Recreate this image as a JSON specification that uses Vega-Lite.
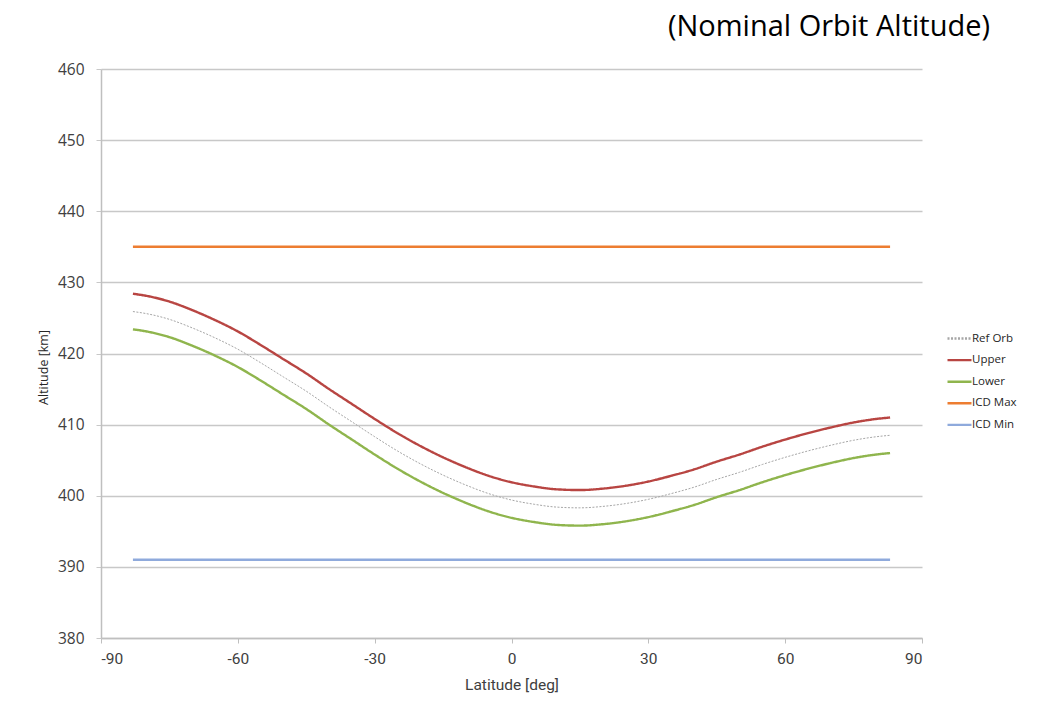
{
  "$schema": "https://vega.github.io/schema/vega-lite/v6.json",
  "width": 821,
  "height": 569,
  "autosize": "none",
  "padding": {"left": 101, "top": 69, "right": 116, "bottom": 68},
  "background": "white",
  "title": {
    "text": "(Nominal Orbit Altitude)",
    "anchor": "end",
    "frame": "group",
    "dx": 68,
    "offset": -3,
    "fontSize": 29,
    "font": "Open Sans",
    "fontWeight": "normal",
    "color": "#000000",
    "baseline": "alphabetic"
  },
  "data": {
    "values": [
      {"series": "Ref Orb", "lat": -83, "alt": 425.9},
      {"series": "Ref Orb", "lat": -80, "alt": 425.6},
      {"series": "Ref Orb", "lat": -75, "alt": 424.8},
      {"series": "Ref Orb", "lat": -70, "alt": 423.6},
      {"series": "Ref Orb", "lat": -65, "alt": 422.2},
      {"series": "Ref Orb", "lat": -60, "alt": 420.6},
      {"series": "Ref Orb", "lat": -55, "alt": 418.7},
      {"series": "Ref Orb", "lat": -50, "alt": 416.7},
      {"series": "Ref Orb", "lat": -45, "alt": 414.7},
      {"series": "Ref Orb", "lat": -40, "alt": 412.5},
      {"series": "Ref Orb", "lat": -35, "alt": 410.4},
      {"series": "Ref Orb", "lat": -30, "alt": 408.3},
      {"series": "Ref Orb", "lat": -25, "alt": 406.3},
      {"series": "Ref Orb", "lat": -20, "alt": 404.5},
      {"series": "Ref Orb", "lat": -15, "alt": 402.9},
      {"series": "Ref Orb", "lat": -10, "alt": 401.5},
      {"series": "Ref Orb", "lat": -5, "alt": 400.3},
      {"series": "Ref Orb", "lat": 0, "alt": 399.4},
      {"series": "Ref Orb", "lat": 5, "alt": 398.8},
      {"series": "Ref Orb", "lat": 10, "alt": 398.4},
      {"series": "Ref Orb", "lat": 15, "alt": 398.3},
      {"series": "Ref Orb", "lat": 20, "alt": 398.5},
      {"series": "Ref Orb", "lat": 25, "alt": 398.9},
      {"series": "Ref Orb", "lat": 30, "alt": 399.5},
      {"series": "Ref Orb", "lat": 35, "alt": 400.3},
      {"series": "Ref Orb", "lat": 40, "alt": 401.2},
      {"series": "Ref Orb", "lat": 45, "alt": 402.3},
      {"series": "Ref Orb", "lat": 50, "alt": 403.3},
      {"series": "Ref Orb", "lat": 55, "alt": 404.4},
      {"series": "Ref Orb", "lat": 60, "alt": 405.4},
      {"series": "Ref Orb", "lat": 65, "alt": 406.3},
      {"series": "Ref Orb", "lat": 70, "alt": 407.1},
      {"series": "Ref Orb", "lat": 75, "alt": 407.8},
      {"series": "Ref Orb", "lat": 80, "alt": 408.3},
      {"series": "Ref Orb", "lat": 83, "alt": 408.5},
      {"series": "Upper", "lat": -83, "alt": 428.4},
      {"series": "Upper", "lat": -80, "alt": 428.1},
      {"series": "Upper", "lat": -75, "alt": 427.3},
      {"series": "Upper", "lat": -70, "alt": 426.1},
      {"series": "Upper", "lat": -65, "alt": 424.7},
      {"series": "Upper", "lat": -60, "alt": 423.1},
      {"series": "Upper", "lat": -55, "alt": 421.2},
      {"series": "Upper", "lat": -50, "alt": 419.2},
      {"series": "Upper", "lat": -45, "alt": 417.2},
      {"series": "Upper", "lat": -40, "alt": 415.0},
      {"series": "Upper", "lat": -35, "alt": 412.9},
      {"series": "Upper", "lat": -30, "alt": 410.8},
      {"series": "Upper", "lat": -25, "alt": 408.8},
      {"series": "Upper", "lat": -20, "alt": 407.0},
      {"series": "Upper", "lat": -15, "alt": 405.4},
      {"series": "Upper", "lat": -10, "alt": 404.0},
      {"series": "Upper", "lat": -5, "alt": 402.8},
      {"series": "Upper", "lat": 0, "alt": 401.9},
      {"series": "Upper", "lat": 5, "alt": 401.3},
      {"series": "Upper", "lat": 10, "alt": 400.9},
      {"series": "Upper", "lat": 15, "alt": 400.8},
      {"series": "Upper", "lat": 20, "alt": 401.0},
      {"series": "Upper", "lat": 25, "alt": 401.4},
      {"series": "Upper", "lat": 30, "alt": 402.0},
      {"series": "Upper", "lat": 35, "alt": 402.8},
      {"series": "Upper", "lat": 40, "alt": 403.7},
      {"series": "Upper", "lat": 45, "alt": 404.8},
      {"series": "Upper", "lat": 50, "alt": 405.8},
      {"series": "Upper", "lat": 55, "alt": 406.9},
      {"series": "Upper", "lat": 60, "alt": 407.9},
      {"series": "Upper", "lat": 65, "alt": 408.8},
      {"series": "Upper", "lat": 70, "alt": 409.6},
      {"series": "Upper", "lat": 75, "alt": 410.3},
      {"series": "Upper", "lat": 80, "alt": 410.8},
      {"series": "Upper", "lat": 83, "alt": 411.0},
      {"series": "Lower", "lat": -83, "alt": 423.4},
      {"series": "Lower", "lat": -80, "alt": 423.1},
      {"series": "Lower", "lat": -75, "alt": 422.3},
      {"series": "Lower", "lat": -70, "alt": 421.1},
      {"series": "Lower", "lat": -65, "alt": 419.7},
      {"series": "Lower", "lat": -60, "alt": 418.1},
      {"series": "Lower", "lat": -55, "alt": 416.2},
      {"series": "Lower", "lat": -50, "alt": 414.2},
      {"series": "Lower", "lat": -45, "alt": 412.2},
      {"series": "Lower", "lat": -40, "alt": 410.0},
      {"series": "Lower", "lat": -35, "alt": 407.9},
      {"series": "Lower", "lat": -30, "alt": 405.8},
      {"series": "Lower", "lat": -25, "alt": 403.8},
      {"series": "Lower", "lat": -20, "alt": 402.0},
      {"series": "Lower", "lat": -15, "alt": 400.4},
      {"series": "Lower", "lat": -10, "alt": 399.0},
      {"series": "Lower", "lat": -5, "alt": 397.8},
      {"series": "Lower", "lat": 0, "alt": 396.9},
      {"series": "Lower", "lat": 5, "alt": 396.3},
      {"series": "Lower", "lat": 10, "alt": 395.9},
      {"series": "Lower", "lat": 15, "alt": 395.8},
      {"series": "Lower", "lat": 20, "alt": 396.0},
      {"series": "Lower", "lat": 25, "alt": 396.4},
      {"series": "Lower", "lat": 30, "alt": 397.0},
      {"series": "Lower", "lat": 35, "alt": 397.8},
      {"series": "Lower", "lat": 40, "alt": 398.7},
      {"series": "Lower", "lat": 45, "alt": 399.8},
      {"series": "Lower", "lat": 50, "alt": 400.8},
      {"series": "Lower", "lat": 55, "alt": 401.9},
      {"series": "Lower", "lat": 60, "alt": 402.9},
      {"series": "Lower", "lat": 65, "alt": 403.8},
      {"series": "Lower", "lat": 70, "alt": 404.6},
      {"series": "Lower", "lat": 75, "alt": 405.3},
      {"series": "Lower", "lat": 80, "alt": 405.8},
      {"series": "Lower", "lat": 83, "alt": 406.0},
      {"series": "ICD Max", "lat": -83, "alt": 435},
      {"series": "ICD Max", "lat": 83, "alt": 435},
      {"series": "ICD Min", "lat": -83, "alt": 391},
      {"series": "ICD Min", "lat": 83, "alt": 391}
    ]
  },
  "mark": {"type": "line", "interpolate": "monotone"},
  "encoding": {
    "x": {
      "field": "lat",
      "type": "quantitative",
      "scale": {"domain": [-90, 90], "nice": false, "zero": false},
      "axis": {
        "values": [-90, -60, -30, 0, 30, 60, 90],
        "labelExpr": "toString(datum.value)",
        "title": "Latitude [deg]",
        "grid": false,
        "labelFont": "Roboto",
        "labelFontSize": 15.5,
        "labelColor": "#404040",
        "labelPadding": 8,
        "tickSize": 5,
        "tickColor": "#bfbfbf",
        "domainColor": "#bfbfbf",
        "domainWidth": 1.5,
        "titleFont": "Roboto",
        "titleFontSize": 15.5,
        "titleFontWeight": "normal",
        "titleColor": "#404040",
        "titlePadding": 11
      }
    },
    "y": {
      "field": "alt",
      "type": "quantitative",
      "scale": {"domain": [380, 460], "nice": false, "zero": false},
      "axis": {
        "values": [380, 390, 400, 410, 420, 430, 440, 450, 460],
        "title": "Altitude [km]",
        "titleY": 298,
        "grid": true,
        "gridColor": "#c8c8c8",
        "gridWidth": 1.5,
        "labelFont": "Open Sans",
        "labelFontSize": 15.5,
        "labelColor": "#404040",
        "labelPadding": 12,
        "tickSize": 5,
        "tickColor": "#c8c8c8",
        "domainColor": "#bfbfbf",
        "domainWidth": 1.5,
        "titleFont": "Open Sans",
        "titleFontSize": 12.5,
        "titleFontWeight": "normal",
        "titleColor": "#262626",
        "titlePadding": 7
      }
    },
    "color": {
      "field": "series",
      "type": "nominal",
      "scale": {
        "domain": ["Ref Orb", "Upper", "Lower", "ICD Max", "ICD Min"],
        "range": ["#a6a6a6", "#b84542", "#8fb54d", "#ed7d31", "#8faadc"]
      },
      "legend": {
        "title": null,
        "orient": "none",
        "legendX": 845,
        "legendY": 256,
        "symbolType": "stroke",
        "symbolSize": 576,
        "symbolStrokeWidth": 2.4,
        "rowPadding": 2.6,
        "labelOffset": -1,
        "labelFont": "Open Sans",
        "labelFontSize": 11.5,
        "labelColor": "#262626",
        "padding": 0
      }
    },
    "strokeDash": {
      "field": "series",
      "type": "nominal",
      "scale": {
        "domain": ["Ref Orb", "Upper", "Lower", "ICD Max", "ICD Min"],
        "range": [[2, 1.5], [1, 0], [1, 0], [1, 0], [1, 0]]
      },
      "legend": {
        "title": null,
        "orient": "none",
        "legendX": 845,
        "legendY": 256,
        "symbolType": "stroke",
        "symbolSize": 576,
        "symbolStrokeWidth": 2.4,
        "rowPadding": 2.6,
        "labelOffset": -1,
        "labelFont": "Open Sans",
        "labelFontSize": 11.5,
        "labelColor": "#262626",
        "padding": 0
      }
    },
    "strokeWidth": {
      "condition": {"test": "datum.series === 'Ref Orb'", "value": 1},
      "value": 2.4
    }
  },
  "config": {
    "view": {"stroke": null}
  }
}
